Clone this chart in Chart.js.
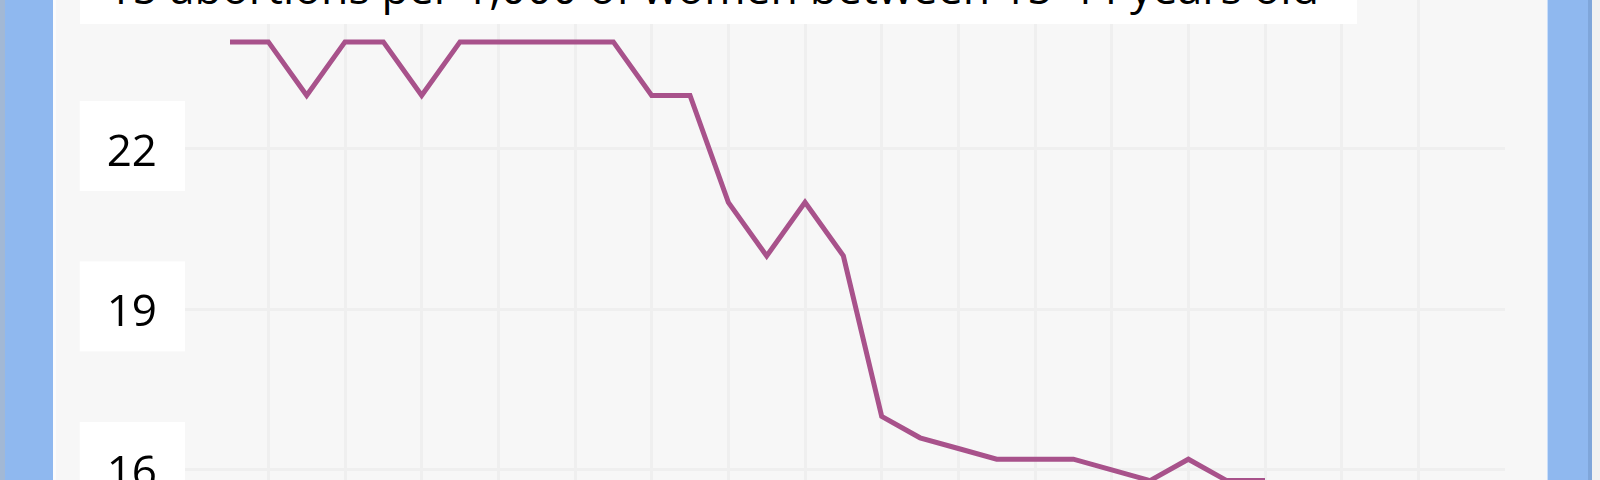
<!DOCTYPE html>
<html>
<head>
<meta charset="utf-8">
<script src="https://cdn.jsdelivr.net/npm/chart.js@4.4.0/dist/chart.umd.min.js"></script>
<style>
  html, body { margin: 0; padding: 0; width: 1600px; height: 480px; overflow: hidden; background: #f1f1f1; }
  .bar { position: absolute; top: 0; height: 480px; }
  #edgeLeft { left: 0; width: 5px; background: #a2b8d5; }
  #barLeft { left: 5px; width: 48px; background: #8fb8ef; }
  #barRight { left: 1547px; width: 41px; background: #8fb8ef; border-left: 1px solid #c9defa; box-sizing: border-box; }
  #edgeRight { left: 1588px; width: 4px; background: #7fa6da; }
  #panel { position: absolute; left: 53px; top: 0; width: 1494px; height: 480px; background: #f7f7f7; overflow: hidden; }
  #panel::before { content: ""; position: absolute; left: 0; top: 0; width: 3px; height: 480px; background: #fcfcfc; }
  #chartBox { position: absolute; left: 0; top: -65.9px; width: 1494px; height: 760px; }
  #title {
    position: absolute; left: 27px; top: -35px; width: 1277px; height: 59px;
    background: #fff; color: #000; box-sizing: border-box; padding-left: 27px;
    font-family: 'Open Sans', sans-serif; font-size: 44.7px; line-height: 44px; white-space: nowrap;
  }
</style>
</head>
<body>
<div class="bar" id="edgeLeft"></div>
<div class="bar" id="barLeft"></div>
<div id="panel">
  <div id="chartBox"><canvas id="abortionRate"></canvas></div>
  <div id="title">15 abortions per 1,000 of women between 15-44 years old</div>
</div>
<div class="bar" id="barRight"></div>
<div class="bar" id="edgeRight"></div>
<script>
// yearly abortion rate, per 1,000 women aged 15-44
var years = [1981, 1982, 1983, 1984, 1985, 1986, 1987, 1988, 1989, 1990,
             1991, 1992, 1993, 1994, 1995, 1996, 1997, 1998, 1999, 2000,
             2001, 2002, 2003, 2004, 2005, 2006, 2007, 2008];
var rates = [24, 24, 23, 24, 24, 23, 24, 24, 24, 24,
             24, 23, 23, 21, 20, 21, 20, 17, 16.6, 16.4,
             16.2, 16.2, 16.2, 16.0, 15.8, 16.2, 15.8, 15.8];
var yTicks = [13, 16, 19, 22];
var xTicks = [1982, 1984, 1986, 1988, 1990, 1992, 1994, 1996,
              1998, 2000, 2002, 2004, 2006, 2008, 2010, 2012];

var points = years.map(function (yr, i) { return { x: yr, y: rates[i] }; });

var abortionRate = document.getElementById("abortionRate");
var abortionRateConfig = {
        type: 'line',
        data: {
            datasets: [{
                label: 'Abortion rate',
                data: points,
                borderColor: '#a8528b',
                borderWidth: 5,
                pointRadius: 0,
                tension: 0,
                fill: false
            }]
        },
        options: {
            responsive: true,
            maintainAspectRatio: false,
            animation: false,
            layout: {
                // the top of the plot comes from the y label padding (26.4 + 28)
                padding: { top: 0, right: 42, left: 0, bottom: 0 }
            },
            plugins: {
                legend: { display: false },
                tooltip: { enabled: false }
            },
            scales: {
                x: {
                    type: 'linear',
                    min: 1979.826,
                    max: 2014.26,
                    afterBuildTicks: function (scale) {
                        scale.ticks = xTicks.map(function (v) { return { value: v }; });
                    },
                    afterFit: function (scale) { scale.height = 63.6; },
                    border: { display: false },
                    grid: { color: '#efefef', lineWidth: 3, drawTicks: false },
                    ticks: {
                        color: '#000',
                        font: { family: 'Open Sans', size: 30 },
                        maxRotation: 0,
                        autoSkip: false,
                        callback: function (v) { return String(v); }
                    }
                },
                y: {
                    min: 13,
                    max: 25,
                    afterBuildTicks: function (scale) {
                        scale.ticks = yTicks.map(function (v) { return { value: v }; });
                    },
                    afterFit: function (scale) { scale.width = 132; },
                    border: { display: false },
                    grid: { color: '#efefef', lineWidth: 3, drawTicks: false },
                    ticks: {
                        color: '#000',
                        padding: 28,
                        labelOffset: 4.5,
                        font: { family: 'Open Sans', size: 44 },
                        showLabelBackdrop: true,
                        backdropColor: '#ffffff',
                        backdropPadding: { top: 26.1, bottom: 11.1, left: 27, right: 28 }
                    }
                }
            }
        }
    };
var abortionRateObj = new Chart(abortionRate, abortionRateConfig);
</script>
</body>
</html>
